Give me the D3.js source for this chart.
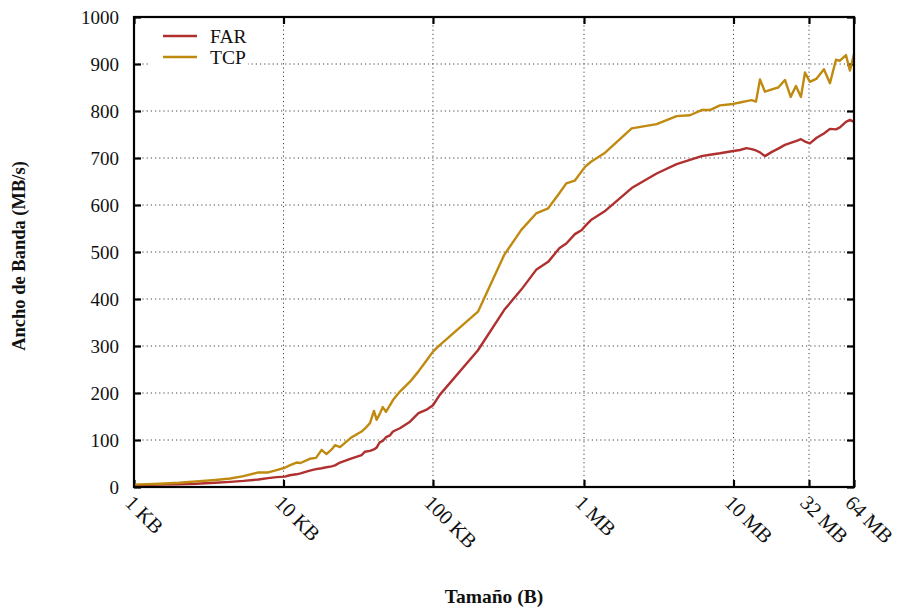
<!DOCTYPE html>
<html>
<head>
<meta charset="utf-8">
<script src="https://cdn.jsdelivr.net/npm/d3@7/dist/d3.min.js"></script>
<style>
  html, body { margin: 0; padding: 0; background: #fff; }
  svg text { font-family: "Liberation Serif", "DejaVu Serif", serif; fill: #111; }
</style>
</head>
<body>
<svg id="chart" width="902" height="610"></svg>
<script>
// Message size in KB
const sizesKB = [1, 1.5, 2, 2.6, 3.5, 4.4, 5.4, 6.8, 7.9, 9, 10.2, 11, 12.2, 13, 15, 16.5, 18, 19.4, 21, 22.1,
  23.9, 26, 28.6, 33.3, 35, 37.9, 40.3, 42, 44, 46.1, 48.5, 51.6, 54, 60.1, 70.2, 80, 90, 100, 111,
  200, 300, 390, 490, 590, 700, 780, 890, 990, 1040, 1140, 1400, 2135, 3135, 4266, 5236, 6270, 7123,
  8317, 10200, 11320, 12500, 13550, 14480, 15400, 16630, 18500, 20400, 22630, 24700, 26800, 28950,
  30800, 33240, 36860, 41250, 45250, 49640, 52750, 57900, 61550, 65536];

// Bandwidth (MB/s)
const farValues = [4, 5, 6, 7, 9, 11, 13, 16, 19, 21, 22, 25, 27, 29, 35, 38, 40, 42, 44, 46,
  52, 56, 61, 68, 75, 77, 80, 84, 95, 98, 106, 110, 118, 125, 139, 157, 164, 174, 196,
  291, 377, 420, 462, 479, 508, 518, 538, 547, 555, 568, 586, 636, 667, 687, 696, 704, 707,
  710, 715, 717, 721, 719, 716, 712, 704, 713, 720, 728, 732, 736, 740,
  735, 731, 743, 752, 762, 761, 765, 777, 781, 777];

const tcpValues = [5, 7, 9, 12, 15, 18, 23, 31, 31, 36, 41, 46, 52, 51, 60, 62, 79, 70, 80, 89,
  85, 95, 106, 118, 124, 136, 162, 143, 155, 170, 160, 174, 185, 203, 224, 246, 268, 288, 302,
  373, 494, 547, 582, 593, 625, 646, 652, 672, 681, 692, 710, 763, 772, 789, 791, 802, 802,
  812, 815, 818, 821, 823, 820, 867, 841, 846, 850, 866, 830, 853, 830,
  882, 862, 869, 889, 859, 909, 907, 919, 886, 921];

const seriesNames = ["FAR", "TCP"];
const seriesColors = ["#b03030", "#c08a10"];

const xTickValues = [1, 10, 100, 1024, 10240, 32768, 65536];
const xTickLabels = ["1 KB", "10 KB", "100 KB", "1 MB", "10 MB", "32 MB", "64 MB"];
const yTickValues = [0, 100, 200, 300, 400, 500, 600, 700, 800, 900, 1000];

const svg = d3.select("#chart");
const plotL = 134, plotR = 854, plotT = 17, plotB = 487;

const x = d3.scaleLog().domain([1, 65536]).range([plotL, plotR]);
const y = d3.scaleLinear().domain([0, 1000]).range([plotB, plotT]);

// Dotted grid
const grid = svg.append("g").attr("stroke", "#444").attr("stroke-width", 1)
  .attr("stroke-dasharray", "1.2,3");
grid.selectAll("line.gy").data(yTickValues.slice(1, -1)).join("line")
  .attr("x1", plotL).attr("x2", plotR)
  .attr("y1", d => y(d)).attr("y2", d => y(d));
grid.selectAll("line.gx").data(xTickValues.slice(1, -1)).join("line")
  .attr("x1", d => x(d)).attr("x2", d => x(d))
  .attr("y1", plotT).attr("y2", plotB);

// Axes with inward ticks, mirrored on all four sides
const axL = d3.axisLeft(y).tickValues(yTickValues).tickFormat(d3.format("d"))
  .tickSizeInner(-7).tickSizeOuter(0).tickPadding(15);
const axR = d3.axisRight(y).tickValues(yTickValues).tickSizeInner(-7).tickSizeOuter(0).tickFormat("");
const axB = d3.axisBottom(x).tickValues(xTickValues).tickSizeInner(-7).tickSizeOuter(0).tickFormat("");
const axT = d3.axisTop(x).tickValues(xTickValues).tickSizeInner(-7).tickSizeOuter(0).tickFormat("");

function styleAxis(g) {
  g.selectAll("path").remove();
  g.selectAll("line").attr("stroke", "#000").attr("stroke-width", 2.2);
  g.selectAll("text").attr("font-size", 19).attr("font-family", "Liberation Serif, serif").attr("fill", "#111");
}
svg.append("g").attr("transform", `translate(${plotL},0)`).call(axL).call(styleAxis);
svg.append("g").attr("transform", `translate(${plotR},0)`).call(axR).call(styleAxis);
svg.append("g").attr("transform", `translate(0,${plotB})`).call(axB).call(styleAxis);
svg.append("g").attr("transform", `translate(0,${plotT})`).call(axT).call(styleAxis);

// Rotated x tick labels
svg.append("g").selectAll("text").data(xTickValues).join("text")
  .attr("transform", d => `translate(${x(d) - 5},${plotB + 12}) rotate(45)`)
  .attr("text-anchor", "start")
  .attr("dy", "0.35em")
  .attr("font-size", 20.5)
  .text((d, i) => xTickLabels[i]);

// Lines
const line = vals => d3.line()
  .x((d, i) => x(sizesKB[i]))
  .y(d => y(d))(vals);

[farValues, tcpValues].forEach((vals, i) => {
  svg.append("path").attr("d", line(vals))
    .attr("fill", "none").attr("stroke", seriesColors[i])
    .attr("stroke-width", 2.4).attr("stroke-linejoin", "round");
});

// Frame
svg.append("rect").attr("x", plotL).attr("y", plotT)
  .attr("width", plotR - plotL).attr("height", plotB - plotT)
  .attr("fill", "none").attr("stroke", "#000").attr("stroke-width", 2.2);

// Legend
const legend = svg.append("g");
legend.append("rect").attr("x", 150).attr("y", 22).attr("width", 98).attr("height", 48).attr("fill", "#fff");
seriesNames.forEach((name, i) => {
  const ly = 36 + i * 21;
  legend.append("line").attr("x1", 163).attr("x2", 197).attr("y1", ly).attr("y2", ly)
    .attr("stroke", seriesColors[i]).attr("stroke-width", 2.4);
  legend.append("text").attr("x", 210).attr("y", ly).attr("dy", "0.35em")
    .attr("font-size", 19.5).text(name);
});

// Axis titles
svg.append("text")
  .attr("transform", `translate(25,256) rotate(-90)`)
  .attr("text-anchor", "middle").attr("font-weight", "bold").attr("font-size", 18.5)
  .text("Ancho de Banda (MB/s)");
svg.append("text")
  .attr("x", 494).attr("y", 603)
  .attr("text-anchor", "middle").attr("font-weight", "bold").attr("font-size", 19.5)
  .text("Tamaño (B)");
</script>
</body>
</html>
